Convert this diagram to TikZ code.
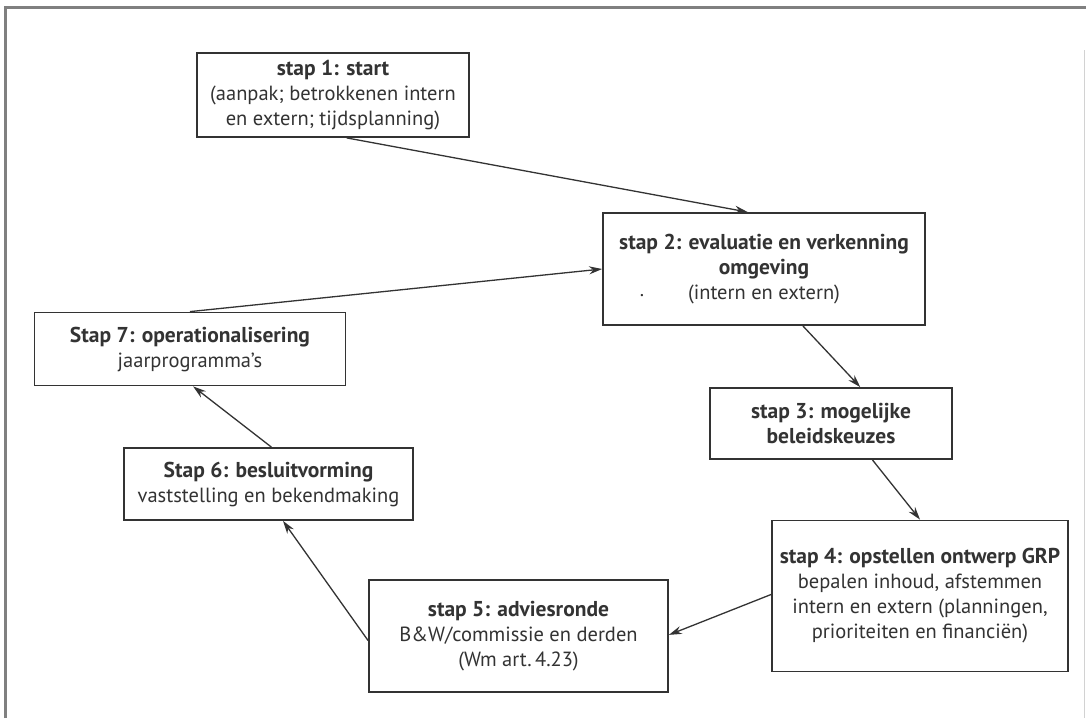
\documentclass[tikz,border=0pt]{standalone}
\usepackage{fontspec}
\setmainfont{PT Sans}
\usetikzlibrary{arrows.meta,calc}
\definecolor{ink}{HTML}{333333}
\newcommand{\ttl}[1]{{\fontsize{21.5}{25}\selectfont\bfseries #1}}
\begin{document}
\begin{tikzpicture}[x=1pt,y=-1pt,
 box/.style={draw=ink, line width=1.8pt, text=ink, align=center, inner sep=0pt, font=\fontsize{20.5}{25}\selectfont},
 conn/.style={draw=ink, line width=1.3pt, -{Stealth[length=13pt,width=8pt]}}]
\useasboundingbox (0,0) rectangle (1086,718);
\fill[white] (0,0) rectangle (1086,718);
\draw[gray, line width=3pt] (5,718) -- (5,7) -- (1086,7);
\draw[gray!35, line width=1pt] (1084,50) -- (1084,718);

\node[box, minimum width=272pt, minimum height=84pt] (s1) at (333,95) {\ttl{stap 1: start}\\(aanpak; betrokkenen intern\\en extern; tijdsplanning)};
\node[box, minimum width=322pt, minimum height=112pt] (s2) at (764,269) {\ttl{stap 2: evaluatie en verkenning}\\\ttl{omgeving}\\(intern en extern)};
\node[text=ink, font=\fontsize{20}{25}\selectfont, inner sep=0pt] (dot) at (642,296) {.};
\node[box, minimum width=311pt, minimum height=73pt] (s7) at (190,349) {\ttl{Stap 7: operationalisering}\\jaarprogramma's};
\node[box, minimum width=242pt, minimum height=71pt] (s3) at (831,423.5) {\ttl{stap 3: mogelijke}\\\ttl{beleidskeuzes}};
\node[box, minimum width=289pt, minimum height=72pt] (s6) at (268.5,484) {\ttl{Stap 6: besluitvorming}\\vaststelling en bekendmaking};
\node[box, minimum width=296pt, minimum height=151pt] (s4) at (920,596) {\ttl{stap 4: opstellen ontwerp GRP}\\bepalen inhoud, afstemmen\\intern en extern (planningen,\\prioriteiten en financiën)};
\node[box, minimum width=299pt, minimum height=112pt] (s5) at (518.5,636) {\ttl{stap 5: adviesronde}\\B\&W/commissie en derden\\(Wm art.\,4.23)};

\draw[conn] ($(s1.south west)!0.55!(s1.south east)$) -- ($(s2.north west)!0.45!(s2.north east)$);
\draw[conn] ($(s2.south west)!0.62!(s2.south east)$) -- ($(s3.north west)!0.62!(s3.north east)$);
\draw[conn] ($(s3.south west)!0.67!(s3.south east)$) -- ($(s4.north west)!0.5!(s4.north east)$);
\draw[conn] ($(s4.north west)!0.49!(s4.south west)$) -- ($(s5.north east)!0.49!(s5.south east)$);
\draw[conn] ($(s5.north west)!0.54!(s5.south west)$) -- ($(s6.south west)!0.55!(s6.south east)$);
\draw[conn] ($(s6.north west)!0.51!(s6.north east)$) -- ($(s7.south west)!0.51!(s7.south east)$);
\draw[conn] ($(s7.north west)!0.5!(s7.north east)$) -- ($(s2.north west)!0.5!(s2.south west)$);
\end{tikzpicture}
\end{document}
